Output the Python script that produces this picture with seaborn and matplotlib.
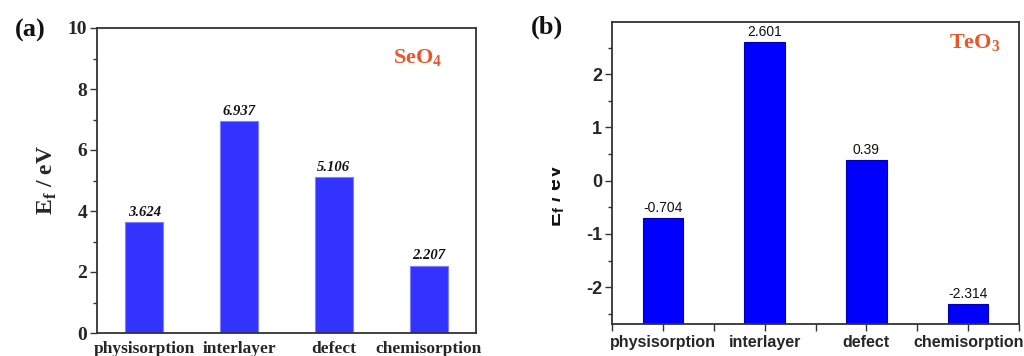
import matplotlib
matplotlib.use("Agg")
import matplotlib.pyplot as plt
import seaborn as sns
import numpy as np
import pandas as pd
from matplotlib.ticker import MultipleLocator
from matplotlib.transforms import Bbox

categories = ["physisorption", "interlayer", "defect", "chemisorption"]
seo4_values = [3.624, 6.937, 5.106, 2.207]
teo3_values = [-0.704, 2.601, 0.39, -2.314]
seo4_labels = ["3.624", "6.937", "5.106", "2.207"]
teo3_labels = ["-0.704", "2.601", "0.39", "-2.314"]

sns.set_theme(style="white")
plt.rcParams["font.family"] = ["DejaVu Sans"]
plt.rcParams["axes.unicode_minus"] = False

fig = plt.figure(figsize=(10.24, 3.56), dpi=100)
W, H = 1024, 356

def ax_at(l, t, r, b):
    return fig.add_axes([l / W, 1 - b / H, (r - l) / W, (b - t) / H])

serif = "Liberation Serif"
sans = "Liberation Sans"
spine_col = "#333333"

# ---------- panel (a)
ax1 = ax_at(97, 28, 476, 333)
df1 = pd.DataFrame({"cat": categories, "val": seo4_values})
sns.barplot(data=df1, x="cat", y="val", ax=ax1, color="#3333FF", saturation=1,
            width=0.4, edgecolor="#7f7fff", linewidth=0.8)
ax1.set_xlim(-0.5, 3.5)
ax1.set_ylim(0, 10)
ax1.yaxis.set_major_locator(MultipleLocator(2))
ax1.yaxis.set_minor_locator(MultipleLocator(1))
ax1.tick_params(axis="y", which="major", direction="out", length=5, width=1, color=spine_col, left=True, pad=2)
ax1.tick_params(axis="y", which="minor", direction="out", length=3, width=1, color=spine_col, left=True)
ax1.tick_params(axis="x", bottom=False, pad=0)
for lab in ax1.get_yticklabels():
    lab.set_fontfamily(serif); lab.set_fontweight("bold"); lab.set_fontsize(14)
for lab in ax1.get_xticklabels():
    lab.set_fontfamily(serif); lab.set_fontweight("bold"); lab.set_fontsize(12.5)
ax1.set_xlabel("")
ax1.set_ylabel(r"E$_\mathregular{f}$ / eV", fontfamily=serif, fontweight="bold", fontsize=17, labelpad=6)
for i, (v, s) in enumerate(zip(seo4_values, seo4_labels)):
    ax1.text(i, v + 0.12, s, ha="center", va="bottom", fontfamily=serif,
             fontweight="bold", fontstyle="italic", fontsize=10.5, color="#111111")
ax1.text(0.847, 0.90, r"SeO$_\mathregular{4}$", transform=ax1.transAxes, ha="center", va="center",
         fontfamily=serif, fontweight="bold", fontsize=16, color="#E8562A")
for sp in ax1.spines.values():
    sp.set_color(spine_col); sp.set_linewidth(1.3); sp.set_visible(True)
fig.text(30 / W, 1 - 30 / H, "(a)", ha="center", va="center", fontfamily=serif,
         fontweight="bold", fontsize=19, color="#111111")

# ---------- panel (b)
ymin_b, ymax_b = -2.69, 2.98
ax2 = ax_at(612, 22, 1019, 324)
df2 = pd.DataFrame({"cat": categories, "val": teo3_values})
df2["h"] = df2["val"] - ymin_b
sns.barplot(data=df2, x="cat", y="h", ax=ax2, color="#0000FF", saturation=1,
            width=0.4, edgecolor="#0000aa", linewidth=0.8, bottom=ymin_b)
ax2.set_xlim(-0.5, 3.5)
ax2.set_ylim(ymin_b, ymax_b)
ax2.yaxis.set_major_locator(MultipleLocator(1))
ax2.yaxis.set_minor_locator(MultipleLocator(0.5))
ax2.xaxis.set_minor_locator(MultipleLocator(1, offset=0.5))
ax2.tick_params(axis="y", which="major", direction="out", length=5, width=1, color=spine_col, left=True, pad=2)
ax2.tick_params(axis="y", which="minor", direction="out", length=3, width=1, color=spine_col, left=True)
ax2.tick_params(axis="x", which="major", direction="out", length=5, width=1, color=spine_col, bottom=True, pad=3)
ax2.tick_params(axis="x", which="minor", direction="out", length=5, width=1, color=spine_col, bottom=True)
for lab in ax2.get_yticklabels():
    lab.set_fontfamily(sans); lab.set_fontweight("bold"); lab.set_fontsize(13)
for lab in ax2.get_xticklabels():
    lab.set_fontfamily(sans); lab.set_fontweight("bold"); lab.set_fontsize(11.5)
ax2.set_xlabel("")
ax2.set_ylabel("")
for i, (v, s) in enumerate(zip(teo3_values, teo3_labels)):
    ax2.text(i, v + 0.06, s, ha="center", va="bottom", fontfamily=sans,
             fontsize=10, color="#111111")
ax2.text(0.89, 0.93, r"TeO$_\mathregular{3}$", transform=ax2.transAxes, ha="center", va="center",
         fontfamily=serif, fontweight="bold", fontsize=16, color="#E8562A")
for sp in ax2.spines.values():
    sp.set_color(spine_col); sp.set_linewidth(1.3); sp.set_visible(True)
yl = fig.text(556 / W, 1 - 195 / H, r"E$_\mathregular{f}$ / eV", rotation=90, ha="center", va="center",
              fontfamily=sans, fontweight="bold", fontsize=15, color="#111111")
yl.set_clip_box(Bbox.from_extents(552, 0, W, H))
yl.set_clip_on(True)
fig.text(547 / W, 1 - 27 / H, "(b)", ha="center", va="center", fontfamily=serif,
         fontweight="bold", fontsize=19, color="#111111")

fig.savefig("out.png", dpi=100, facecolor="white")
